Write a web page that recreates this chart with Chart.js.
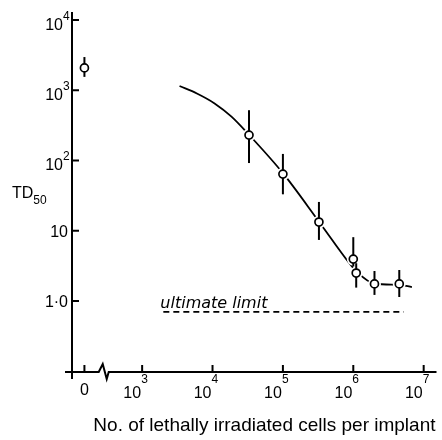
<!DOCTYPE html>
<html><head><meta charset="utf-8">
<script src="https://cdn.jsdelivr.net/npm/chart.js@4"></script>
<style>html,body{margin:0;padding:0;background:#fff}#wrap{width:442px;height:440px}</style>
</head><body><div id="wrap"><canvas id="c" width="442" height="440"></canvas></div>
<script>
// ---- data ----
const cellsPerImplant = [0, 3.3e4, 1.0e5, 3.25e5, 1.0e6, 1.1e6, 2.0e6, 4.5e6];
const td50      = [2080, 230, 64, 13.3, 3.95, 2.5, 1.75, 1.75];
const td50Low   = [1550, 92, 33, 7.4, 3.1, 1.55, 1.22, 1.14];
const td50High  = [2970, 520, 124, 25.7, 8.1, 3.45, 2.67, 2.76];
const fitCells  = [3.4e3, 6.0e3, 1.07e4, 1.86e4, 3.2e4, 1e5, 3.2e5, 8.7e5, 1.12e6, 2e6, 4.5e6, 6.8e6];
const fitTD50   = [1150, 900, 650, 421, 240, 66, 13.8, 3.5, 2.6, 1.76, 1.70, 1.58];
const limitCells = [2.0e3, 5.2e6];
const limitTD50  = [0.70, 0.70];
const limitLabel = 'ultimate limit';
const xTickValues = [0, 1e3, 1e4, 1e5, 1e6, 1e7];
const xTickBase   = ['0', '10', '10', '10', '10', '10'];
const xTickExp    = ['', '3', '4', '5', '6', '7'];
const yTickValues = [1e4, 1e3, 1e2, 10, 1];
const yTickBase   = ['10', '10', '10', '10', '1·0'];
const yTickExp    = ['4', '3', '2', '', ''];
const xTitle = 'No. of lethally irradiated cells per implant';
const yTitleMain = 'TD', yTitleSub = '50';

// position (in decades) used for the zero-cell control, left of the axis break
const ZERO_POS = 2.18, BREAK_POS = 2.44;
const xPos = c => c === 0 ? ZERO_POS : Math.log10(c);
const yPos = v => Math.log10(v);
const pts = (xs, ys) => xs.map((c, i) => ({x: xPos(c), y: yPos(ys[i])}));

const SANS = "'Liberation Sans', Arial, sans-serif";

const decor = {
  id: 'decor',
  afterDatasetDraw(chart, args) {
    if (args.index !== 1) return;
    const {ctx, scales: {x, y}} = chart;
    ctx.save();
    ctx.strokeStyle = '#000'; ctx.lineWidth = 2;
    cellsPerImplant.forEach((c, i) => {
      const px = x.getPixelForValue(xPos(c));
      ctx.beginPath();
      ctx.moveTo(px, y.getPixelForValue(yPos(td50High[i])));
      ctx.lineTo(px, y.getPixelForValue(yPos(td50Low[i])));
      ctx.stroke();
    });
    ctx.restore();
  },
  afterDraw(chart) {
    const {ctx, chartArea: ca, scales: {x, y}} = chart;
    const X0 = ca.left, Y0 = ca.bottom;
    ctx.save();
    ctx.strokeStyle = '#000'; ctx.fillStyle = '#000'; ctx.lineWidth = 2;
    // y axis
    ctx.beginPath(); ctx.moveTo(X0, ca.top); ctx.lineTo(X0, Y0 + 7); ctx.stroke();
    // x axis with break
    const bx = x.getPixelForValue(BREAK_POS);
    ctx.beginPath();
    ctx.moveTo(X0 - 7, Y0); ctx.lineTo(bx - 4, Y0); ctx.lineTo(bx, Y0 - 8);
    ctx.lineTo(bx + 4, Y0 + 7); ctx.lineTo(bx + 6, Y0); ctx.lineTo(ca.right + 1, Y0);
    ctx.stroke();
    // y ticks + labels
    ctx.textBaseline = 'alphabetic';
    yTickValues.forEach((v, i) => {
      const py = y.getPixelForValue(yPos(v));
      ctx.beginPath(); ctx.moveTo(X0, py); ctx.lineTo(X0 + 7, py); ctx.stroke();
      if (yTickExp[i]) {
        ctx.font = '16px ' + SANS; ctx.textAlign = 'right';
        ctx.fillText(yTickBase[i], X0 - 9, py + 9.5);
        ctx.font = '12px ' + SANS; ctx.textAlign = 'left';
        ctx.fillText(yTickExp[i], X0 - 9, py);
      } else {
        ctx.font = '16px ' + SANS; ctx.textAlign = 'right';
        ctx.fillText(yTickBase[i], X0 - 4, py + 6.5);
      }
    });
    // x ticks + labels
    xTickValues.forEach((v, i) => {
      const px = x.getPixelForValue(xPos(v));
      ctx.beginPath(); ctx.moveTo(px, Y0); ctx.lineTo(px, Y0 - 7); ctx.stroke();
      if (xTickExp[i]) {
        ctx.font = '16px ' + SANS; ctx.textAlign = 'right';
        ctx.fillText(xTickBase[i], px - 1, Y0 + 26);
        ctx.font = '12px ' + SANS; ctx.textAlign = 'left';
        ctx.fillText(xTickExp[i], px - 1, Y0 + 11);
      } else {
        ctx.font = '16px ' + SANS; ctx.textAlign = 'center';
        ctx.fillText(xTickBase[i], px, Y0 + 23);
      }
    });
    // y title TD50
    ctx.textAlign = 'left';
    ctx.font = '16px ' + SANS;
    ctx.fillText(yTitleMain, 12, 198);
    const w = ctx.measureText(yTitleMain).width;
    ctx.font = '12px ' + SANS;
    ctx.fillText(yTitleSub, 12 + w, 204);
    // ultimate limit label
    ctx.font = "italic 16px 'DejaVu Sans', sans-serif";
    ctx.fillText(limitLabel, x.getPixelForValue(xPos(limitCells[0])) - 3, y.getPixelForValue(yPos(limitTD50[0])) - 4);
    ctx.restore();
  }
};

new Chart(document.getElementById('c'), {
  type: 'line',
  data: {
    datasets: [
      { // data circles (top)
        data: pts(cellsPerImplant, td50), showLine: false,
        pointRadius: 4, pointBorderWidth: 1.7, pointBackgroundColor: '#fff', pointBorderColor: '#000'
      },
      { // white halo giving the gap between curve and circles
        data: pts(cellsPerImplant, td50), showLine: false,
        pointRadius: 6.5, pointBorderWidth: 0, pointBackgroundColor: '#fff', pointBorderColor: '#fff'
      },
      { // fitted curve
        data: pts(fitCells, fitTD50), borderColor: '#000', borderWidth: 1.8,
        pointRadius: 0, cubicInterpolationMode: 'monotone', fill: false
      },
      { // ultimate limit
        data: pts(limitCells, limitTD50), borderColor: '#000', borderWidth: 1.8,
        borderDash: [6, 4], pointRadius: 0, fill: false
      }
    ]
  },
  options: {
    responsive: false, animation: false, events: [],
    layout: { padding: { left: 0, right: 2, top: 12, bottom: 0 } },
    plugins: { legend: { display: false }, tooltip: { enabled: false } },
    scales: {
      x: {
        type: 'linear', min: 2.0035, max: 7.168,
        grid: { display: false, drawTicks: false }, border: { display: false },
        ticks: { display: false },
        title: { display: true, text: xTitle, align: 'end', color: '#000',
                 font: { family: SANS, size: 19 }, padding: { top: 0, bottom: 3 } },
        afterFit: s => { s.height = 68; }
      },
      y: {
        type: 'linear', min: -1.011, max: 4.114,
        grid: { display: false, drawTicks: false }, border: { display: false },
        ticks: { display: false },
        afterFit: s => { s.width = 72; }
      }
    }
  },
  plugins: [decor]
});
</script>
</body></html>
